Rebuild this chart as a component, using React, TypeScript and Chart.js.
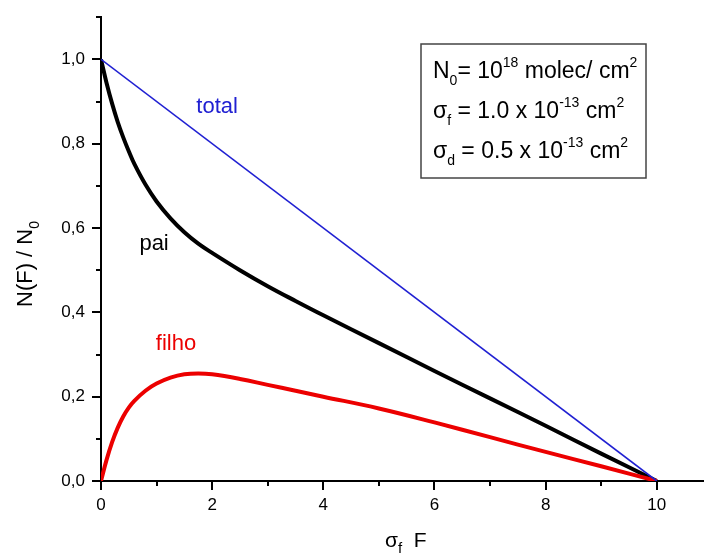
import React, { useEffect, useRef } from 'react';
import { Chart, registerables } from 'chart.js';

Chart.register(...registerables);

// ---- data ----
const xValues = [0, 0.1, 0.2, 0.3, 0.4, 0.5, 0.6, 0.8, 1.0, 1.25, 1.5, 1.75, 2, 2.5, 3, 3.5, 4, 5, 6, 7, 8, 9, 10];
const paiValues = [1.0, 0.944, 0.895, 0.852, 0.815, 0.782, 0.752, 0.703, 0.663, 0.623, 0.59, 0.563, 0.541, 0.5, 0.462, 0.427, 0.393, 0.327, 0.261, 0.196, 0.131, 0.065, 0];
const filhoValues = [0, 0.05, 0.092, 0.126, 0.153, 0.174, 0.19, 0.214, 0.231, 0.245, 0.253, 0.255, 0.253, 0.242, 0.228, 0.214, 0.2, 0.172, 0.139, 0.104, 0.069, 0.035, 0];
const totalX = [0, 10];
const totalValues = [1.0, 0];

const xTicks = [0, 2, 4, 6, 8, 10];
const xMinorTicks = [1, 3, 5, 7, 9];
const yTicks = [0, 0.2, 0.4, 0.6, 0.8, 1.0];
const yMinorTicks = [0.1, 0.3, 0.5, 0.7, 0.9, 1.1];

const seriesNames = ['total', 'pai', 'filho'];
const seriesColors = ['rgb(32,32,210)', '#000000', 'rgb(236,0,0)'];
const labelX = [2.09, 0.955, 1.35];
const labelY = [0.888, 0.562, 0.326];

type Seg = { t: string; m?: 'sub' | 'sup' };
const legendLines: Seg[][] = [
  [{ t: 'N' }, { t: '0', m: 'sub' }, { t: '= 10' }, { t: '18', m: 'sup' }, { t: ' molec/ cm' }, { t: '2', m: 'sup' }],
  [{ t: 'σ' }, { t: 'f', m: 'sub' }, { t: ' = 1.0 x 10' }, { t: '-13', m: 'sup' }, { t: ' cm' }, { t: '2', m: 'sup' }],
  [{ t: 'σ' }, { t: 'd', m: 'sub' }, { t: ' = 0.5 x 10' }, { t: '-13', m: 'sup' }, { t: ' cm' }, { t: '2', m: 'sup' }],
];
const xTitle: Seg[] = [{ t: 'σ' }, { t: 'f', m: 'sub' }, { t: '  F' }];
const yTitle: Seg[] = [{ t: 'N(F) / N' }, { t: '0', m: 'sub' }];

const FONT = '"Liberation Sans", Arial, sans-serif';

function drawRich(ctx: CanvasRenderingContext2D, x: number, y: number, segs: Seg[], size: number, small: number) {
  let cx = x;
  ctx.textAlign = 'left';
  ctx.textBaseline = 'alphabetic';
  for (const s of segs) {
    if (s.m) {
      ctx.font = `${small}px ${FONT}`;
      const dy = s.m === 'sub' ? size * 0.3 : -size * 0.5;
      ctx.fillText(s.t, cx, y + dy);
    } else {
      ctx.font = `${size}px ${FONT}`;
      ctx.fillText(s.t, cx, y);
    }
    cx += ctx.measureText(s.t).width;
  }
  return cx - x;
}

const decorPlugin = {
  id: 'decor',
  afterDraw(chart: any) {
    const ctx: CanvasRenderingContext2D = chart.ctx;
    const xs = chart.scales.x;
    const ys = chart.scales.y;
    const area = chart.chartArea;
    ctx.save();
    // minor ticks
    ctx.strokeStyle = '#000';
    ctx.lineWidth = 2;
    ctx.beginPath();
    for (const v of xMinorTicks) {
      const px = Math.round(xs.getPixelForValue(v));
      ctx.moveTo(px, area.bottom);
      ctx.lineTo(px, area.bottom + 5);
    }
    for (const v of yMinorTicks) {
      const py = Math.round(ys.getPixelForValue(v));
      ctx.moveTo(area.left - 5, py);
      ctx.lineTo(area.left, py);
    }
    ctx.stroke();

    // series labels
    ctx.font = `22px ${FONT}`;
    ctx.textAlign = 'center';
    ctx.textBaseline = 'middle';
    seriesNames.forEach((name, i) => {
      ctx.fillStyle = seriesColors[i];
      ctx.fillText(name, xs.getPixelForValue(labelX[i]), ys.getPixelForValue(labelY[i]));
    });

    // legend box
    ctx.fillStyle = '#ffffff';
    ctx.fillRect(421, 44, 225, 134);
    ctx.strokeStyle = '#444';
    ctx.lineWidth = 1.5;
    ctx.strokeRect(421, 44, 225, 134);
    ctx.fillStyle = '#000';
    const baselines = [78, 118, 158];
    legendLines.forEach((line, i) => drawRich(ctx, 433, baselines[i], line, 23, 14));

    // axis titles
    ctx.fillStyle = '#000';
    drawRich(ctx, 385, 547, xTitle, 21, 15);
    ctx.translate(32, 307);
    ctx.rotate(-Math.PI / 2);
    drawRich(ctx, 0, 0, yTitle, 22, 14);
    ctx.restore();
  },
};

export default function App() {
  const ref = useRef<HTMLCanvasElement | null>(null);
  useEffect(() => {
    if (!ref.current) return;
    const chart = new Chart(ref.current, {
      type: 'line',
      data: {
        datasets: [
          {
            label: 'total',
            data: totalX.map((x, i) => ({ x, y: totalValues[i] })),
            borderColor: seriesColors[0],
            borderWidth: 1.6,
            pointRadius: 0,
            fill: false,
          },
          {
            label: 'filho',
            data: xValues.map((x, i) => ({ x, y: filhoValues[i] })),
            borderColor: seriesColors[2],
            borderWidth: 4,
            pointRadius: 0,
            tension: 0.4,
            fill: false,
          },
          {
            label: 'pai',
            data: xValues.map((x, i) => ({ x, y: paiValues[i] })),
            borderColor: seriesColors[1],
            borderWidth: 4,
            pointRadius: 0,
            tension: 0.4,
            fill: false,
          },
        ],
      },
      options: {
        responsive: false,
        animation: false,
        layout: { padding: { top: 16, left: 0, right: 0, bottom: 0 } },
        plugins: { legend: { display: false }, tooltip: { enabled: false } },
        scales: {
          x: {
            type: 'linear',
            min: 0,
            max: 10.85,
            afterBuildTicks: (scale: any) => {
              scale.ticks = xTicks.map((v) => ({ value: v }));
            },
            afterFit: (scale: any) => {
              scale.height = 73;
            },
            ticks: {
              color: '#000',
              font: { family: FONT, size: 17 },
              padding: 5,
              maxRotation: 0,
              callback: (v: any) => String(v),
            },
            grid: { display: true, drawOnChartArea: false, drawTicks: true, tickLength: 9, color: '#000', lineWidth: 2 },
            border: { display: true, color: '#000', width: 2 },
          },
          y: {
            type: 'linear',
            min: 0,
            max: 1.1,
            afterBuildTicks: (scale: any) => {
              scale.ticks = yTicks.map((v) => ({ value: v }));
            },
            afterFit: (scale: any) => {
              scale.width = 101;
            },
            ticks: {
              color: '#000',
              font: { family: FONT, size: 17 },
              padding: 7,
              callback: (v: any) => Number(v).toFixed(1).replace('.', ','),
            },
            grid: { display: true, drawOnChartArea: false, drawTicks: true, tickLength: 9, color: '#000', lineWidth: 2 },
            border: { display: true, color: '#000', width: 2 },
          },
        },
      },
      plugins: [decorPlugin],
    } as any);
    return () => chart.destroy();
  }, []);
  return (
    <div style={{ position: 'fixed', left: 0, top: 0, width: 704, height: 554, background: '#fff' }}>
      <canvas ref={ref} width={704} height={554} style={{ display: 'block' }} />
    </div>
  );
}
